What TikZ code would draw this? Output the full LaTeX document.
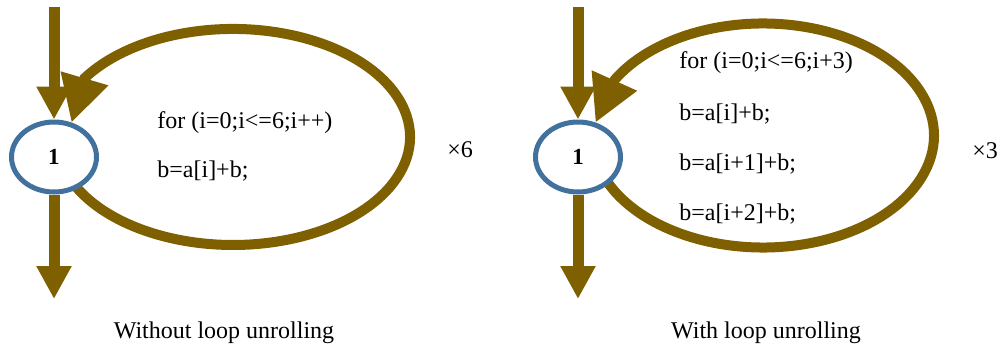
\documentclass[tikz,border=0pt]{standalone}
\usepackage{fontspec}
\setmainfont{Liberation Serif}
\usetikzlibrary{arrows.meta,shapes.geometric,backgrounds}
\definecolor{loopbrown}{HTML}{7F6000}
\definecolor{nodeblue}{HTML}{41719C}

\begin{document}
\begin{tikzpicture}[
			x=0.5pt,
			y=-0.5pt,
			flow/.style={
				draw=loopbrown,
				line width=5.5pt,
				-{Triangle[length=16.5pt,width=16.5pt]}
			},
			loopline/.style={
				draw=loopbrown,
				line width=5pt,
				-{Triangle[length=23pt,width=23.5pt]}
			},
			block/.style={
				ellipse,
				draw=nodeblue,
				line width=2.5pt,
				fill=white,
				minimum width=42.5pt,
				minimum height=35pt,
				inner sep=0pt,
				font=\bfseries\fontsize{11.5}{13}\selectfont
			},
			code/.style={
				anchor=base west,
				inner sep=0pt,
				font=\fontsize{12}{14}\selectfont
			},
			caption/.style={
				anchor=base,
				inner sep=0pt,
				font=\fontsize{12}{14}\selectfont
			}
			]
			
			\useasboundingbox (0,0) rectangle (1003,349);
			
			% without unrolling
			\node[block] (n1) at (54,157) {\raisebox{-1.5pt}{1}};
			\coordinate (in1) at (54,7);
			\coordinate (out1) at (54,299);
			\coordinate (ls1) at (66.7,173.9);
			
			\draw[flow] (in1) -- (n1.north);
			\draw[flow] (n1.south) -- (out1);
			\begin{scope}[on background layer]
				\draw[loopline] (ls1) arc[start angle=160,end angle=-147,x radius=177,y radius=108] -- (n1.63);
			\end{scope}
			
			\node[code] (for1) at (157,128) {for (i=0;i<=6;i++)};
			\node[code] (body1) at (157,177) {b=a[i]+b;};
			\node[code] (rep1) at (447,157) {×6};
			\node[caption] (cap1) at (224,338) {Without loop unrolling};
			
			% with unrolling
			\node[block] (n2) at (578,157) {\raisebox{-1.5pt}{1}};
			\coordinate (in2) at (578,7);
			\coordinate (out2) at (578,299);
			\coordinate (ls2) at (602.3,173.8);
			
			\draw[flow] (in2) -- (n2.north);
			\draw[flow] (n2.south) -- (out2);
			\begin{scope}[on background layer]
				\draw[loopline] (ls2) arc[start angle=160,end angle=-150,x radius=171,y radius=112] -- (n2.63);
			\end{scope}
			
			\node[code] (for2) at (679,68) {for (i=0;i<=6;i+3)};
			\node[code] (body2a) at (679,120) {b=a[i]+b;};
			\node[code] (body2b) at (679,170) {b=a[i+1]+b;};
			\node[code] (body2c) at (679,220) {b=a[i+2]+b;};
			\node[code] (rep2) at (972,158) {×3};
			\node[caption] (cap2) at (766,338) {With loop unrolling};
			
		\end{tikzpicture}
\end{document}
